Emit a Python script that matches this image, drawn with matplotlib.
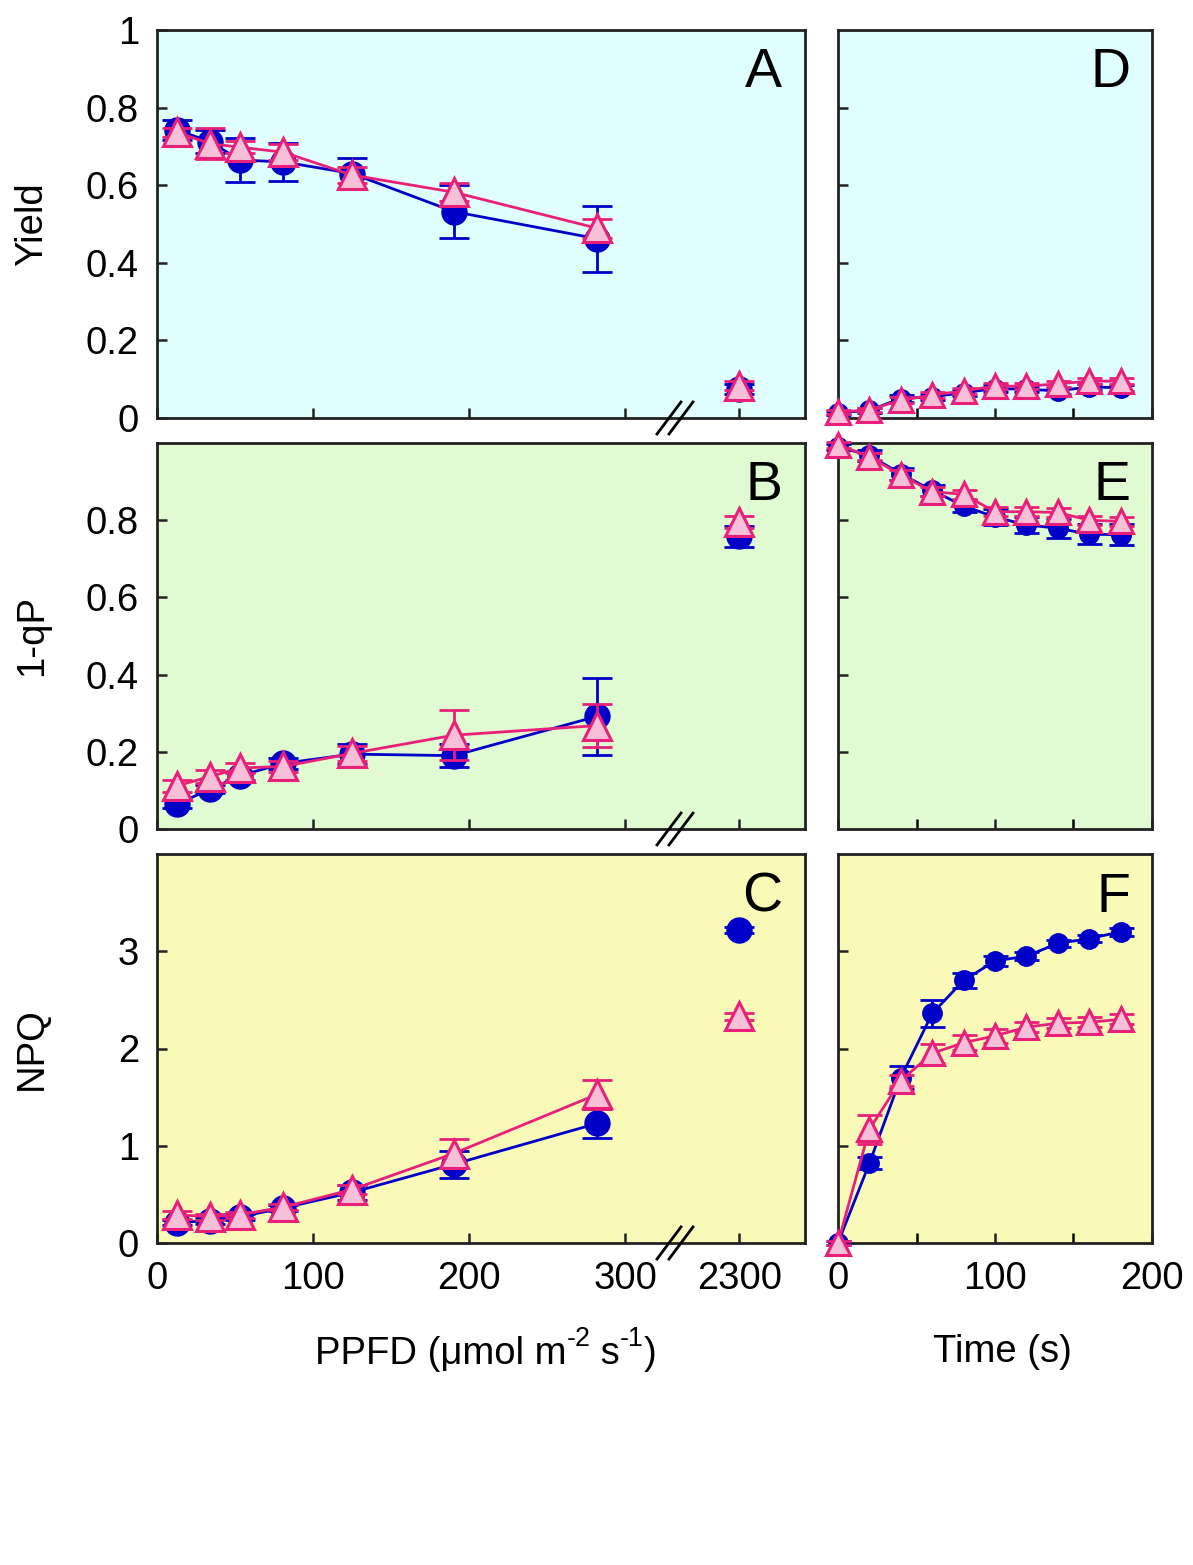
import numpy as np
import matplotlib
matplotlib.use("Agg")
import matplotlib.pyplot as plt
from matplotlib.scale import FuncScale

plt.rcParams['font.family'] = ['Liberation Sans', 'DejaVu Sans']

# ---------------- data ----------------
ppfd = [13, 34, 53, 81, 125, 190, 282, 2300]
time_s = [0, 20, 40, 60, 80, 100, 120, 140, 160, 180]

# Panel A: Yield vs PPFD
yield_wt = [0.742, 0.712, 0.665, 0.660, 0.630, 0.532, 0.462, 0.075]
yield_wt_err = [0.025, 0.03, 0.057, 0.05, 0.04, 0.068, 0.085, 0.012]
yield_mut = [0.736, 0.707, 0.698, 0.685, 0.626, 0.582, 0.489, 0.083]
yield_mut_err = [0.012, 0.04, 0.015, 0.02, 0.02, 0.023, 0.025, 0.012]

# Panel B: 1-qP vs PPFD
qp_wt = [0.065, 0.103, 0.138, 0.170, 0.194, 0.190, 0.292, 0.758]
qp_wt_err = [0.01, 0.01, 0.01, 0.015, 0.025, 0.03, 0.1, 0.027]
qp_mut = [0.112, 0.136, 0.158, 0.162, 0.196, 0.243, 0.268, 0.795]
qp_mut_err = [0.015, 0.017, 0.012, 0.015, 0.02, 0.065, 0.055, 0.015]

# Panel C: NPQ vs PPFD
npq_wt = [0.21, 0.23, 0.27, 0.36, 0.52, 0.81, 1.23, 3.22]
npq_wt_err = [0.03, 0.03, 0.03, 0.03, 0.08, 0.14, 0.15, 0.03]
npq_mut = [0.29, 0.27, 0.29, 0.37, 0.55, 0.92, 1.53, 2.33]
npq_mut_err = [0.04, 0.03, 0.03, 0.03, 0.05, 0.15, 0.15, 0.04]

# Panel D: Yield vs time
d_wt = [0.013, 0.020, 0.050, 0.055, 0.065, 0.076, 0.074, 0.070, 0.080, 0.078]
d_wt_err = [0.005, 0.006, 0.008, 0.008, 0.008, 0.008, 0.008, 0.008, 0.008, 0.008]
d_mut = [0.015, 0.021, 0.046, 0.059, 0.070, 0.082, 0.082, 0.088, 0.095, 0.095]
d_mut_err = [0.005, 0.006, 0.008, 0.008, 0.008, 0.008, 0.008, 0.008, 0.008, 0.008]

# Panel E: 1-qP vs time
e_wt = [0.99, 0.968, 0.920, 0.877, 0.837, 0.808, 0.788, 0.779, 0.764, 0.762]
e_wt_err = [0.008, 0.015, 0.015, 0.015, 0.015, 0.02, 0.02, 0.025, 0.025, 0.027]
e_mut = [0.995, 0.965, 0.917, 0.874, 0.867, 0.822, 0.822, 0.820, 0.800, 0.797]
e_mut_err = [0.008, 0.01, 0.012, 0.012, 0.012, 0.012, 0.012, 0.012, 0.012, 0.012]

# Panel F: NPQ vs time
f_wt = [0.0, 0.82, 1.70, 2.36, 2.70, 2.90, 2.95, 3.08, 3.13, 3.20]
f_wt_err = [0.02, 0.06, 0.12, 0.14, 0.08, 0.05, 0.04, 0.04, 0.04, 0.04]
f_mut = [0.0, 1.17, 1.67, 1.95, 2.06, 2.13, 2.22, 2.26, 2.27, 2.30]
f_mut_err = [0.02, 0.15, 0.06, 0.1, 0.08, 0.07, 0.05, 0.05, 0.05, 0.05]

left_yticks = [[0, 0.2, 0.4, 0.6, 0.8, 1.0], [0, 0.2, 0.4, 0.6, 0.8], [0, 1, 2, 3]]
left_yticklabels = [["0", "0.2", "0.4", "0.6", "0.8", "1"],
                    ["0", "0.2", "0.4", "0.6", "0.8"],
                    ["0", "1", "2", "3"]]
ppfd_ticks = [0, 100, 200, 300, 2300]
ppfd_ticklabels = ["0", "100", "200", "300", "2300"]
time_ticks = [0, 100, 200]
ylabels = ["Yield", "1-qP", "NPQ"]
panel_letters = [["A", "B", "C"], ["D", "E", "F"]]
xlabel_parts = ["PPFD (\u03bcmol m", "-2", " s", "-1", ")"]
time_label = "Time (s)"

# ---------------- style ----------------
BLUE = "#0000C8"
PINK = "#E8207A"
PINK_FACE = "#F7BFD8"
bgs = ["#E0FEFE", "#E0FAD2", "#FAFAB8"]
FS = 27.5

W, H = 1193, 1565
fig = plt.figure(figsize=(W / 100, H / 100), dpi=100)

rows_px = [(30, 418), (443, 829), (854, 1243)]
left_px = (157, 805)
right_px = (838, 1152)


def rect(xp, yp):
    return [xp[0] / W, 1 - yp[1] / H, (xp[1] - xp[0]) / W, (yp[1] - yp[0]) / H]


# broken PPFD scale
def fwd(x):
    x = np.asarray(x, dtype=float)
    return np.where(x <= 300, x,
                    np.where(x < 2300, 300 + (x - 300) * 73.0 / 2000.0, x - 2300 + 373))


def inv(y):
    y = np.asarray(y, dtype=float)
    return np.where(y <= 300, y,
                    np.where(y < 373, 300 + (y - 300) * 2000.0 / 73.0, y + 2300 - 373))


left_data = [
    (yield_wt, yield_wt_err, yield_mut, yield_mut_err, (0, 1.0)),
    (qp_wt, qp_wt_err, qp_mut, qp_mut_err, (0, 1.0)),
    (npq_wt, npq_wt_err, npq_mut, npq_mut_err, (0, 4.0)),
]
right_data = [
    (d_wt, d_wt_err, d_mut, d_mut_err, (0, 1.0), [0.2, 0.4, 0.6, 0.8]),
    (e_wt, e_wt_err, e_mut, e_mut_err, (0, 1.0), [0.2, 0.4, 0.6, 0.8]),
    (f_wt, f_wt_err, f_mut, f_mut_err, (0, 4.0), [1, 2, 3]),
]


def style_axes(ax, bg):
    ax.set_facecolor(bg)
    for s in ax.spines.values():
        s.set_linewidth(2.0)
        s.set_color("#222222")
    ax.tick_params(direction="in", length=7, width=1.8, labelsize=FS, pad=13,
                   colors="#222222", labelcolor="black")
    ax.tick_params(which="minor", direction="in", length=7, width=1.8)


def plot_series(ax, x, y, err, color, marker, ms, mfc, capsize, connect_n, z):
    ax.errorbar(x, y, yerr=err, fmt="none", ecolor=color, elinewidth=2.0,
                capsize=capsize, capthick=2.0, zorder=z, clip_on=False)
    ax.plot(x[:connect_n], y[:connect_n], "-", color=color, lw=2.0, zorder=z + 0.1)
    ax.plot(x, y, linestyle="none", marker=marker, ms=ms, mfc=mfc, mec=color,
            mew=2.2 if marker == "^" else 1.0, zorder=z + 0.2, clip_on=False)


# left column
for i, (wt, wte, mu, mue, ylim) in enumerate(left_data):
    ax = fig.add_axes(rect(left_px, rows_px[i]))
    style_axes(ax, bgs[i])
    ax.set_xscale(FuncScale(ax, (fwd, inv)))
    ax.set_xlim(0, 2342)
    ax.set_ylim(*ylim)
    ax.set_xticks(ppfd_ticks)
    if i == 2:
        ax.set_xticklabels(ppfd_ticklabels)
    else:
        ax.set_xticklabels([])
    ax.set_yticks(left_yticks[i])
    ax.set_yticklabels(left_yticklabels[i])
    plot_series(ax, ppfd, wt, wte, BLUE, "o", 18, BLUE, 11, 7, 3)
    plot_series(ax, ppfd, mu, mue, PINK, "^", 20, PINK_FACE, 11, 7, 4)
    ax.text(0.965, 0.955, panel_letters[0][i], transform=ax.transAxes,
            ha="right", va="top", fontsize=40)
    # axis-break marks
    for dx in (-6, 6):
        xa = (675 + dx - left_px[0]) / (left_px[1] - left_px[0])
        ax.plot([xa - 12 / 648, xa + 12 / 648], [-16 / 388, 16 / 388],
                transform=ax.transAxes, color="black", lw=2.0,
                clip_on=False, zorder=10)
    fig.text(0.027, 1 - (rows_px[i][0] + rows_px[i][1]) / 2 / H, ylabels[i],
             rotation=90, ha="center", va="center", fontsize=FS)

# right column
for i, (wt, wte, mu, mue, ylim, yt) in enumerate(right_data):
    ax = fig.add_axes(rect(right_px, rows_px[i]))
    style_axes(ax, bgs[i])
    ax.set_xlim(0, 200)
    ax.set_ylim(*ylim)
    ax.set_xticks(time_ticks)
    ax.set_xticks([50, 150], minor=True)
    if i == 2:
        ax.set_xticklabels([str(t) for t in time_ticks])
    else:
        ax.set_xticklabels([])
    ax.set_yticks(yt)
    ax.set_yticklabels([])
    plot_series(ax, time_s, wt, wte, BLUE, "o", 14, BLUE, 9, len(time_s), 3)
    plot_series(ax, time_s, mu, mue, PINK, "^", 17, PINK_FACE, 9, len(time_s), 4)
    ax.text(0.93, 0.955, panel_letters[1][i], transform=ax.transAxes,
            ha="right", va="top", fontsize=40)

# x-axis labels (PPFD label built from pieces so superscripts keep plain hyphens)
ov = fig.add_axes([0, 0, 1, 1], facecolor="none")
ov.set_axis_off()
ov.set_xlim(0, 1)
ov.set_ylim(0, 1)
t1 = ov.text(315 / W, 1 - 1372 / H, xlabel_parts[0], ha="left", va="bottom",
             fontsize=FS, transform=ov.transAxes)
t2 = ov.annotate(xlabel_parts[1], xy=(1, 0.55), xycoords=t1, ha="left",
                 va="bottom", fontsize=FS * 0.7)
t3 = ov.annotate(xlabel_parts[2], xy=(1, 0), xycoords=(t2, t1), ha="left",
                 va="bottom", fontsize=FS)
t4 = ov.annotate(xlabel_parts[3], xy=(1, 0.55), xycoords=(t3, t1), ha="left",
                 va="bottom", fontsize=FS * 0.7)
t5 = ov.annotate(xlabel_parts[4], xy=(1, 0), xycoords=(t4, t1), ha="left",
                 va="bottom", fontsize=FS)
fig.text(1002 / W, 1 - 1352 / H, time_label, ha="center", va="center", fontsize=FS)

fig.savefig("out.png", dpi=100)
